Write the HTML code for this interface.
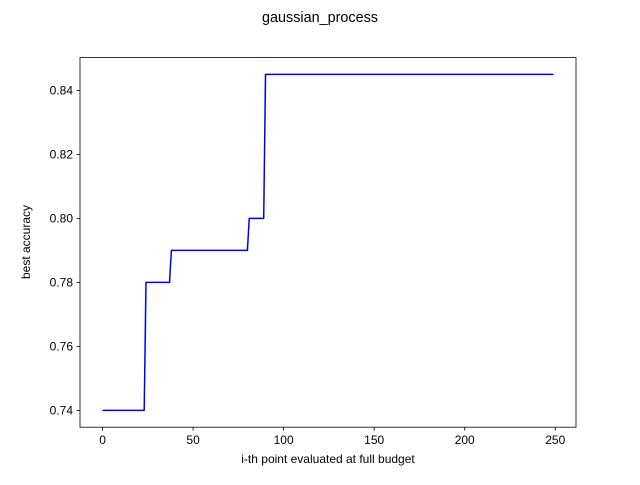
<!DOCTYPE html>
<html><head><meta charset="utf-8"><style>
body{margin:0;background:#fff}
svg text{font-family:"Liberation Sans","DejaVu Sans",sans-serif;fill:#000}
</style></head><body>
<svg id="chart" width="640" height="480" viewBox="0 0 640 480" xmlns="http://www.w3.org/2000/svg">
<rect width="640" height="480" fill="#fff"/>
<text x="320" y="22" font-size="14.4" text-anchor="middle">gaussian_process</text>
<path id="series" fill="none" stroke="#0000ff" stroke-width="1.5" stroke-linejoin="round"/>
<rect x="80" y="57.6" width="496" height="369.6" fill="none" stroke="#000" stroke-width="0.8"/>
<g id="axes"></g>
<text x="328" y="467" font-size="12" text-anchor="middle" transform="translate(0,-4)">i-th point evaluated at full budget</text>
<text x="0" y="0" font-size="12" text-anchor="middle" transform="translate(30,242) rotate(-90)">best accuracy</text>
</svg>
<script>
const stepStarts=[0,24,38,81,90];
const stepValues=[0.74,0.78,0.79,0.80,0.845];
const nPoints=250;
const xTicks=[0,50,100,150,200,250];
const yTicks=[0.74,0.76,0.78,0.80,0.82,0.84];
const yTickLabels=["0.74","0.76","0.78","0.80","0.82","0.84"];

const L=80,R=576,T=57.6,B=427.2;
const xMin=-12.45,xMax=261.45,yMin=0.73475,yMax=0.85025;
const sx=v=>L+(v-xMin)/(xMax-xMin)*(R-L);
const sy=v=>B-(v-yMin)/(yMax-yMin)*(B-T);

const ys=[];
for(let i=0;i<nPoints;i++){let v=stepValues[0];for(let k=0;k<stepStarts.length;k++)if(i>=stepStarts[k])v=stepValues[k];ys.push(v);}
let d="";
ys.forEach((v,i)=>{d+=(i?"L":"M")+sx(i).toFixed(2)+","+sy(v).toFixed(2);});
document.getElementById('series').setAttribute('d',d);

const ns="http://www.w3.org/2000/svg",ax=document.getElementById('axes');
xTicks.forEach(t=>{
 const l=document.createElementNS(ns,'line');
 
 
 l.setAttribute('x1',sx(t));l.setAttribute('x2',sx(t));l.setAttribute('y1',B);l.setAttribute('y2',B+3.5);l.setAttribute('stroke','#000');l.setAttribute('stroke-width','0.8');ax.appendChild(l);
 const tx=document.createElementNS(ns,'text');
 
 
 tx.setAttribute('x',sx(t));tx.setAttribute('y',B+17);tx.setAttribute('font-size','12');tx.setAttribute('text-anchor','middle');tx.textContent=t;ax.appendChild(tx);
});
yTicks.forEach((t,i)=>{
 const l=document.createElementNS(ns,'line');
 
 
 l.setAttribute('x1',L-3.5);l.setAttribute('x2',L);l.setAttribute('y1',sy(t));l.setAttribute('y2',sy(t));l.setAttribute('stroke','#000');l.setAttribute('stroke-width','0.8');ax.appendChild(l);
 const tx=document.createElementNS(ns,'text');
 
 
 tx.setAttribute('x',L-7);tx.setAttribute('y',sy(t)+4.3);tx.setAttribute('font-size','12');tx.setAttribute('text-anchor','end');tx.textContent=yTickLabels[i];ax.appendChild(tx);
});
</script>
</body></html>
